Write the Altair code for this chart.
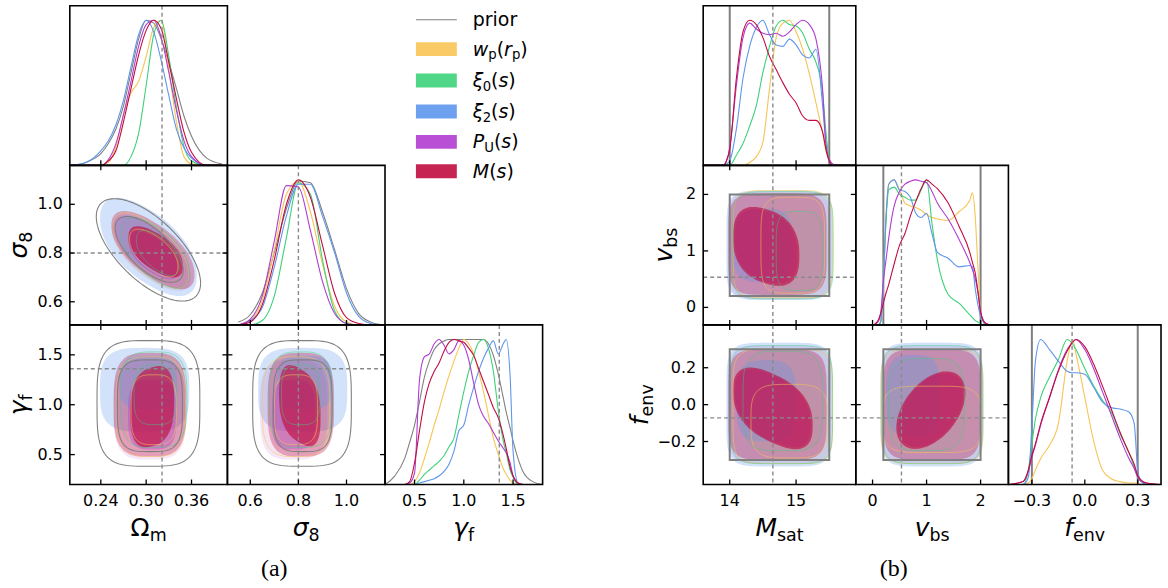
import numpy as np
import pandas as pd
import altair as alt

# ---------------------------------------------------------------- data
SET_ORDER = ["wp", "xi0", "xi2", "PU", "M"]
SET_COLOR = {"wp": "#f8c454", "xi0": "#3dd17a", "xi2": "#5e96ee",
             "PU": "#b03cd0", "M": "#c00d40"}
PRIOR_COLOR = "#808080"
TRUTH_COLOR = "#8a8a8a"

# parameter axes
DOMAIN = {"Om": [0.199, 0.4075], "s8": [0.505, 1.16], "gf": [0.2, 1.8],
          "Ms": [13.6, 15.9], "vb": [-0.31, 2.515], "fe": [-0.433, 0.432]}
XTICKS = {"Om": [0.24, 0.30, 0.36], "s8": [0.6, 0.8, 1.0], "gf": [0.5, 1.0, 1.5],
          "Ms": [14, 15], "vb": [0, 1, 2], "fe": [-0.3, 0.0, 0.3]}
XTICK_LABELS = {"Om": ["0.24", "0.30", "0.36"], "s8": ["0.6", "0.8", "1.0"],
                "gf": ["0.5", "1.0", "1.5"], "Ms": ["14", "15"], "vb": ["0", "1", "2"],
                "fe": ["\u22120.3", "0.0", "0.3"]}
YTICKS = {"s8": [0.6, 0.8, 1.0], "gf": [0.5, 1.0, 1.5], "vb": [0, 1, 2],
          "fe": [-0.2, 0.0, 0.2]}
YTICK_LABELS = {"s8": ["0.6", "0.8", "1.0"], "gf": ["0.5", "1.0", "1.5"],
                "vb": ["0", "1", "2"], "fe": ["\u22120.2", "0.0", "0.2"]}
TRUTH = {"Om": 0.321, "s8": 0.80, "gf": 1.36, "Ms": 14.65, "vb": 0.535, "fe": -0.072}
PRIOR_BOUNDS = {"Ms": [14.0, 15.5], "vb": [0.2, 2.0], "fe": [-0.3, 0.3]}

# axis titles: (text, role) pieces; role = italic / roman / subscript
TITLES = {"Om": [("\u03a9", "rm"), ("m", "sub")], "s8": [("\u03c3", "it"), ("8", "sub")],
          "gf": [("\u03b3", "it"), ("f", "sub")], "Ms": [("M", "it"), ("sat", "sub")],
          "vb": [("v", "it"), ("bs", "sub")], "fe": [("f", "it"), ("env", "sub")]}
LEGEND = [("prior", [("prior", "rm")]),
          ("wp", [("w", "it"), ("p", "sub"), ("(", "rm"), ("r", "it"), ("p", "sub"), (")", "rm")]),
          ("xi0", [("\u03be", "it"), ("0", "sub"), ("(", "rm"), ("s", "it"), (")", "rm")]),
          ("xi2", [("\u03be", "it"), ("2", "sub"), ("(", "rm"), ("s", "it"), (")", "rm")]),
          ("PU", [("P", "it"), ("U", "sub"), ("(", "rm"), ("s", "it"), (")", "rm")]),
          ("M", [("M", "it"), ("(", "rm"), ("s", "it"), (")", "rm")])]

# marginal posteriors (peak-normalised)
OM_GRID = [0.20, 0.22, 0.24, 0.25, 0.26, 0.27, 0.28, 0.29, 0.30, 0.31, 0.32, 0.33, 0.34, 0.35, 0.36, 0.38, 0.40]
OM_PDF = {
    "prior": [0.00, 0.02, 0.08, 0.15, 0.25, 0.41, 0.64, 0.87, 1.00, 0.98, 0.87, 0.71, 0.53, 0.34, 0.20, 0.05, 0.01],
    "wp":    [0.00, 0.00, 0.00, 0.02, 0.13, 0.35, 0.50, 0.58, 0.75, 0.95, 1.00, 0.66, 0.30, 0.06, 0.01, 0.00, 0.00],
    "xi0":   [0.00, 0.00, 0.00, 0.00, 0.00, 0.00, 0.06, 0.22, 0.55, 0.90, 1.00, 0.75, 0.40, 0.13, 0.03, 0.00, 0.00],
    "xi2":   [0.00, 0.02, 0.10, 0.17, 0.28, 0.45, 0.68, 0.90, 1.00, 0.92, 0.72, 0.48, 0.25, 0.12, 0.05, 0.00, 0.00],
    "PU":    [0.00, 0.00, 0.00, 0.04, 0.15, 0.35, 0.58, 0.82, 0.97, 1.00, 0.88, 0.64, 0.38, 0.17, 0.06, 0.00, 0.00],
    "M":     [0.00, 0.00, 0.00, 0.03, 0.10, 0.30, 0.53, 0.76, 0.93, 1.00, 0.94, 0.71, 0.46, 0.23, 0.09, 0.00, 0.00],
}
S8_GRID = [0.55, 0.60, 0.65, 0.70, 0.75, 0.80, 0.85, 0.90, 0.95, 1.00, 1.05, 1.10, 1.15]
S8_PDF = {
    "prior": [0.02, 0.07, 0.22, 0.50, 0.80, 0.99, 0.98, 0.78, 0.52, 0.25, 0.08, 0.02, 0.00],
    "wp":    [0.00, 0.03, 0.17, 0.52, 0.90, 0.99, 0.78, 0.42, 0.13, 0.02, 0.00, 0.00, 0.00],
    "xi0":   [0.00, 0.00, 0.03, 0.20, 0.60, 0.98, 0.90, 0.45, 0.10, 0.01, 0.00, 0.00, 0.00],
    "xi2":   [0.00, 0.03, 0.12, 0.40, 0.75, 0.97, 0.97, 0.75, 0.50, 0.22, 0.06, 0.01, 0.00],
    "PU":    [0.00, 0.04, 0.20, 0.58, 0.96, 0.95, 0.65, 0.30, 0.08, 0.01, 0.00, 0.00, 0.00],
    "M":     [0.00, 0.02, 0.14, 0.45, 0.83, 1.00, 0.88, 0.55, 0.22, 0.05, 0.01, 0.00, 0.00],
}
GF_GRID = [0.2, 0.3, 0.4, 0.45, 0.5, 0.55, 0.6, 0.65, 0.7, 0.75, 0.8, 0.85, 0.9, 0.95, 1.0,
           1.05, 1.1, 1.15, 1.2, 1.25, 1.3, 1.35, 1.4, 1.43, 1.47, 1.5, 1.55, 1.6, 1.7, 1.8]
GF_PDF = {
    "prior": [0.00, 0.06, 0.18, 0.29, 0.41, 0.57, 0.74, 0.85, 0.93, 0.97, 0.99, 1.00, 1.00, 1.00, 1.00,
              1.00, 1.00, 1.00, 1.00, 0.97, 0.89, 0.76, 0.60, 0.50, 0.39, 0.30, 0.18, 0.09, 0.02, 0.00],
    "wp":    [0.00, 0.00, 0.00, 0.00, 0.02, 0.08, 0.18, 0.29, 0.41, 0.52, 0.64, 0.75, 0.85, 0.94, 1.00,
              0.97, 0.90, 0.78, 0.64, 0.48, 0.32, 0.21, 0.11, 0.07, 0.03, 0.01, 0.00, 0.00, 0.00, 0.00],
    "xi0":   [0.00, 0.00, 0.00, 0.00, 0.00, 0.03, 0.07, 0.10, 0.13, 0.16, 0.20, 0.26, 0.32, 0.48, 0.64,
              0.78, 0.89, 0.98, 1.00, 0.94, 0.78, 0.51, 0.30, 0.22, 0.10, 0.05, 0.00, 0.00, 0.00, 0.00],
    "xi2":   [0.00, 0.00, 0.00, 0.00, 0.00, 0.01, 0.02, 0.03, 0.04, 0.06, 0.09, 0.14, 0.23, 0.37, 0.41,
              0.55, 0.67, 0.78, 0.87, 0.94, 0.99, 0.90, 0.97, 1.00, 0.75, 0.23, 0.01, 0.00, 0.00, 0.00],
    "PU":    [0.00, 0.00, 0.00, 0.01, 0.08, 0.72, 0.88, 0.90, 0.97, 1.00, 0.96, 0.90, 0.93, 0.99, 0.96,
              0.86, 0.70, 0.55, 0.47, 0.42, 0.36, 0.30, 0.25, 0.22, 0.15, 0.06, 0.01, 0.00, 0.00, 0.00],
    "M":     [0.00, 0.00, 0.00, 0.02, 0.15, 0.37, 0.57, 0.70, 0.78, 0.84, 0.92, 0.98, 1.00, 0.99, 0.98,
              0.94, 0.89, 0.80, 0.71, 0.62, 0.53, 0.46, 0.34, 0.25, 0.12, 0.06, 0.01, 0.00, 0.00, 0.00],
}
MS_GRID = [13.6, 13.9, 13.95, 14.0, 14.1, 14.2, 14.3, 14.4, 14.5, 14.6, 14.7, 14.8, 14.9, 15.0,
           15.1, 15.2, 15.3, 15.4, 15.45, 15.5, 15.55, 15.6, 15.9]
MS_PDF = {
    "wp":  [0, 0, 0, 0, 0, 0.00, 0.02, 0.06, 0.16, 0.53, 0.88, 0.98, 1.00, 0.92, 0.80, 0.63, 0.43, 0.22, 0.10, 0.03, 0.00, 0, 0],
    "xi0": [0, 0, 0, 0.00, 0.07, 0.15, 0.27, 0.41, 0.64, 0.82, 0.96, 1.00, 0.97, 0.96, 0.91, 0.80, 0.71, 0.50, 0.23, 0.04, 0.00, 0, 0],
    "xi2": [0, 0, 0.01, 0.03, 0.25, 0.60, 0.82, 0.95, 1.00, 0.90, 0.83, 0.82, 0.87, 0.83, 0.76, 0.74, 0.80, 0.41, 0.15, 0.03, 0.00, 0, 0],
    "PU":  [0, 0, 0.03, 0.12, 0.55, 0.88, 0.98, 0.94, 0.91, 0.90, 0.91, 0.89, 0.92, 0.97, 1.00, 0.97, 0.87, 0.52, 0.14, 0.04, 0.01, 0, 0],
    "M":   [0, 0, 0.03, 0.11, 0.60, 0.92, 1.00, 0.97, 0.88, 0.75, 0.66, 0.57, 0.49, 0.43, 0.34, 0.31, 0.31, 0.23, 0.11, 0.03, 0.00, 0, 0],
}
VB_GRID = [-0.3, 0.0, 0.1, 0.15, 0.2, 0.25, 0.3, 0.4, 0.5, 0.6, 0.7, 0.8, 0.9, 1.0, 1.1, 1.2,
           1.4, 1.6, 1.8, 1.85, 1.9, 1.95, 2.0, 2.05, 2.1, 2.2, 2.5]
VB_PDF = {
    "wp":  [0, 0, 0.00, 0.02, 0.30, 0.75, 0.97, 1.00, 0.93, 0.84, 0.82, 0.81, 0.79, 0.76, 0.74, 0.73,
            0.72, 0.78, 0.86, 0.91, 0.75, 0.40, 0.09, 0.02, 0.00, 0, 0],
    "xi0": [0, 0, 0.00, 0.02, 0.30, 0.72, 0.93, 0.95, 0.90, 0.88, 0.86, 0.86, 0.93, 1.00, 0.70, 0.45,
            0.21, 0.15, 0.07, 0.05, 0.03, 0.02, 0.01, 0.00, 0, 0, 0],
    "xi2": [0, 0, 0.00, 0.02, 0.30, 0.75, 0.97, 1.00, 0.93, 0.92, 0.88, 0.77, 0.74, 0.77, 0.63, 0.50,
            0.46, 0.40, 0.41, 0.40, 0.25, 0.14, 0.06, 0.02, 0.00, 0, 0],
    "PU":  [0, 0, 0.02, 0.08, 0.30, 0.45, 0.60, 0.82, 0.92, 0.97, 0.99, 1.00, 0.99, 0.98, 0.92, 0.84,
            0.73, 0.59, 0.43, 0.38, 0.32, 0.23, 0.09, 0.03, 0.01, 0, 0],
    "M":   [0, 0, 0.03, 0.08, 0.15, 0.22, 0.28, 0.42, 0.55, 0.63, 0.75, 0.85, 0.94, 1.00, 0.97, 0.94,
            0.84, 0.68, 0.50, 0.43, 0.36, 0.23, 0.09, 0.03, 0.01, 0, 0],
}
FE_GRID = [-0.43, -0.35, -0.32, -0.3, -0.28, -0.25, -0.2, -0.15, -0.1, -0.07, -0.05, 0.0, 0.05,
           0.1, 0.15, 0.2, 0.25, 0.28, 0.3, 0.32, 0.35, 0.43]
FE_PDF = {
    "wp":  [0, 0, 0.01, 0.04, 0.10, 0.18, 0.27, 0.42, 0.85, 1.00, 0.90, 0.60, 0.30, 0.10, 0.04, 0.02, 0.01, 0.01, 0.01, 0, 0, 0],
    "xi0": [0, 0.00, 0.10, 0.28, 0.45, 0.60, 0.74, 0.86, 1.00, 0.97, 0.93, 0.80, 0.68, 0.58, 0.50, 0.35, 0.22, 0.12, 0.05, 0.02, 0, 0],
    "xi2": [0, 0, 0.05, 0.40, 0.85, 1.00, 0.93, 0.85, 0.78, 0.77, 0.77, 0.76, 0.67, 0.57, 0.53, 0.52, 0.50, 0.42, 0.10, 0.02, 0, 0],
    "PU":  [0, 0.02, 0.09, 0.19, 0.27, 0.41, 0.60, 0.79, 0.93, 0.98, 1.00, 0.93, 0.80, 0.64, 0.48, 0.32, 0.18, 0.11, 0.05, 0.02, 0.01, 0],
    "M":   [0, 0.02, 0.10, 0.20, 0.28, 0.42, 0.60, 0.78, 0.92, 0.98, 1.00, 0.95, 0.83, 0.68, 0.52, 0.36, 0.22, 0.14, 0.06, 0.03, 0.01, 0],
}

# 2D credible regions: (set, level, centre x, centre y, half-width, half-height, correlation, squareness)
CONTOURS = {
    ("Om", "s8"): [
        ("prior", 95, 0.303, 0.813, 0.069, 0.210, -0.65, 1.0),
        ("prior", 68, 0.304, 0.815, 0.045, 0.135, -0.65, 1.0),
        ("xi2", 95, 0.303, 0.825, 0.064, 0.195, -0.60, 0.9),
        ("xi2", 68, 0.300, 0.830, 0.040, 0.120, -0.60, 0.9),
        ("wp", 95, 0.306, 0.810, 0.050, 0.150, -0.65, 0.9),
        ("wp", 68, 0.310, 0.800, 0.032, 0.095, -0.60, 0.9),
        ("xi0", 95, 0.312, 0.800, 0.045, 0.140, -0.60, 0.9),
        ("xi0", 68, 0.315, 0.800, 0.028, 0.090, -0.60, 0.9),
        ("PU", 95, 0.307, 0.800, 0.052, 0.150, -0.65, 0.9),
        ("PU", 68, 0.310, 0.790, 0.033, 0.095, -0.60, 0.9),
        ("M", 95, 0.309, 0.812, 0.055, 0.155, -0.65, 0.9),
        ("M", 68, 0.3126, 0.805, 0.036, 0.100, -0.60, 0.85),
    ],
    ("Om", "gf"): [
        ("prior", 95, 0.303, 1.013, 0.068, 0.63, 0.0, 0.55),
        ("prior", 68, 0.305, 0.990, 0.043, 0.46, 0.0, 0.55),
        ("xi2", 95, 0.298, 1.150, 0.059, 0.42, 0.0, 0.6),
        ("xi2", 68, 0.303, 1.220, 0.038, 0.27, 0.0, 0.6),
        ("wp", 95, 0.306, 0.980, 0.046, 0.50, 0.0, 0.6),
        ("wp", 68, 0.310, 0.950, 0.030, 0.35, 0.0, 0.6),
        ("xi0", 95, 0.310, 1.050, 0.044, 0.48, 0.0, 0.6),
        ("xi0", 68, 0.312, 1.100, 0.028, 0.30, 0.0, 0.6),
        ("PU", 95, 0.305, 0.950, 0.048, 0.50, 0.0, 0.6),
        ("PU", 68, 0.308, 0.900, 0.032, 0.35, 0.0, 0.6),
        ("M", 95, 0.305, 1.000, 0.048, 0.52, 0.0, 0.6),
        ("M", 68, 0.308, 0.980, 0.029, 0.40, 0.15, 0.75),
    ],
    ("s8", "gf"): [
        ("prior", 95, 0.815, 1.013, 0.205, 0.63, 0.0, 0.55),
        ("prior", 68, 0.818, 0.990, 0.122, 0.46, 0.0, 0.55),
        ("xi2", 95, 0.818, 1.150, 0.185, 0.42, 0.0, 0.6),
        ("xi2", 68, 0.825, 1.220, 0.115, 0.27, 0.0, 0.6),
        ("wp", 95, 0.790, 0.980, 0.140, 0.50, 0.0, 0.6),
        ("wp", 68, 0.790, 0.950, 0.090, 0.35, 0.0, 0.6),
        ("xi0", 95, 0.810, 1.050, 0.130, 0.48, 0.0, 0.6),
        ("xi0", 68, 0.810, 1.100, 0.080, 0.30, 0.0, 0.6),
        ("PU", 95, 0.780, 0.950, 0.140, 0.50, 0.0, 0.6),
        ("PU", 68, 0.780, 0.900, 0.090, 0.35, 0.0, 0.6),
        ("M", 95, 0.810, 1.000, 0.138, 0.52, 0.0, 0.6),
        ("M", 68, 0.806, 0.990, 0.086, 0.39, -0.30, 0.75),
    ],
    ("Ms", "vb"): [
        ("xi2", 95, 14.75, 1.10, 0.80, 0.97, 0.0, 0.35),
        ("xi2", 68, 14.50, 1.10, 0.45, 0.65, 0.0, 0.6),
        ("wp", 95, 14.80, 1.12, 0.75, 0.95, 0.0, 0.35),
        ("wp", 68, 14.95, 1.10, 0.48, 0.85, 0.0, 0.45),
        ("xi0", 95, 14.80, 1.10, 0.76, 0.95, 0.0, 0.35),
        ("xi0", 68, 15.05, 1.00, 0.35, 0.70, 0.0, 0.5),
        ("PU", 95, 14.75, 1.10, 0.78, 0.95, 0.0, 0.35),
        ("PU", 68, 14.55, 1.08, 0.47, 0.64, -0.25, 0.8),
        ("M", 95, 14.72, 1.12, 0.74, 0.90, 0.0, 0.4),
        ("M", 68, 14.55, 1.08, 0.50, 0.68, -0.25, 0.8),
    ],
    ("Ms", "fe"): [
        ("xi2", 95, 14.75, 0.00, 0.80, 0.335, 0.0, 0.35),
        ("xi2", 68, 14.55, 0.02, 0.45, 0.22, 0.0, 0.6),
        ("wp", 95, 14.80, -0.01, 0.75, 0.31, 0.0, 0.35),
        ("wp", 68, 14.90, -0.09, 0.58, 0.20, 0.0, 0.55),
        ("xi0", 95, 14.78, 0.00, 0.77, 0.32, 0.0, 0.35),
        ("xi0", 68, 14.80, 0.02, 0.60, 0.27, 0.0, 0.5),
        ("PU", 95, 14.75, 0.00, 0.78, 0.32, 0.0, 0.35),
        ("PU", 68, 14.65, -0.02, 0.57, 0.20, -0.45, 0.8),
        ("M", 95, 14.72, 0.00, 0.74, 0.30, 0.0, 0.4),
        ("M", 68, 14.65, -0.02, 0.60, 0.21, -0.45, 0.8),
    ],
    ("vb", "fe"): [
        ("xi2", 95, 1.10, 0.00, 0.95, 0.335, 0.0, 0.35),
        ("xi2", 68, 0.75, 0.05, 0.50, 0.22, 0.0, 0.6),
        ("wp", 95, 1.10, -0.01, 0.95, 0.31, 0.0, 0.35),
        ("wp", 68, 1.10, -0.08, 0.90, 0.18, 0.0, 0.45),
        ("xi0", 95, 1.10, 0.00, 0.93, 0.32, 0.0, 0.35),
        ("xi0", 68, 1.00, 0.00, 0.70, 0.25, 0.0, 0.5),
        ("PU", 95, 1.10, 0.00, 0.95, 0.32, 0.0, 0.35),
        ("PU", 68, 1.08, -0.03, 0.60, 0.20, 0.45, 1.0),
        ("M", 95, 1.10, 0.00, 0.90, 0.30, 0.0, 0.4),
        ("M", 68, 1.08, -0.03, 0.64, 0.21, 0.45, 1.0),
    ],
}

# ---------------------------------------------------------------- styling
FONT = "DejaVu Sans"
W_L, W_R, H, GAP, CAP_H = 158, 153, 160, 161, 100
TICK_FS, TITLE_FS, LEGEND_FS = 16, 25, 19
FILL_OPACITY = {("xi2", 95): 0.28, ("xi2", 68): 0.30, ("wp", 95): 0.05, ("wp", 68): 0.05,
                ("xi0", 95): 0.05, ("xi0", 68): 0.05, ("PU", 95): 0.12, ("PU", 68): 0.35,
                ("M", 95): 0.32, ("M", 68): 0.65}
LINE_OPACITY = {"wp": 0.55, "xi0": 0.45}
CHAR_W = {"\u03a9": 0.764, "\u03c3": 0.634, "\u03b3": 0.592, "M": 0.863, "v": 0.592, "f": 0.352,
          "m": 0.974, "s": 0.521, "a": 0.613, "t": 0.392, "b": 0.635, "e": 0.615, "n": 0.634,
          "w": 0.818, "p": 0.635, "r": 0.411, "(": 0.390, ")": 0.390, "\u03be": 0.52,
          "P": 0.603, "U": 0.732, "0": 0.636, "2": 0.636, "8": 0.636, "i": 0.278, "o": 0.612}

ONE = pd.DataFrame({"k": [0]})
YPDF = alt.Scale(domain=[0, 1.1], nice=False, zero=True)


def sc(key):
    return alt.Scale(domain=DOMAIN[key], nice=False, zero=False)


def rich_text(pieces, x, y, size, angle=0, center=True):
    """Text with subscripts, laid out piece by piece along its baseline."""
    sub = 0.7 * size
    widths = [sum(CHAR_W.get(ch, 0.6) for ch in t) * (sub if r == "sub" else size)
              for t, r in pieces]
    off = -sum(widths) / 2 if center else 0.0
    out = []
    for (t, r), w in zip(pieces, widths):
        out.append(alt.Chart(ONE).mark_text(
            text=t, font=FONT, fontSize=sub if r == "sub" else size,
            fontStyle="italic" if r == "it" else "normal", align="left",
            baseline="alphabetic", dx=off, dy=0.2 * size if r == "sub" else 0,
            angle=angle, color="black").encode(x=alt.value(x), y=alt.value(y)))
        off += w
    return out


def frame(w):
    return alt.Chart(ONE).mark_rect(fillOpacity=0, stroke="black", strokeWidth=1.6).encode(
        x=alt.value(0), x2=alt.value(w), y=alt.value(0), y2=alt.value(H))


def x_ticks(key, top=False):
    d = pd.DataFrame({"v": XTICKS[key]})
    m = alt.Chart(d).mark_rule(color="black", strokeWidth=1.3)
    out = [m.encode(x=alt.X("v:Q", scale=sc(key), axis=None), y=alt.value(H), y2=alt.value(H - 5))]
    if top:
        out.append(m.encode(x=alt.X("v:Q", scale=sc(key), axis=None), y=alt.value(0), y2=alt.value(5)))
    return out


def y_ticks(key, w):
    d = pd.DataFrame({"v": YTICKS[key]})
    m = alt.Chart(d).mark_rule(color="black", strokeWidth=1.3)
    return [m.encode(y=alt.Y("v:Q", scale=sc(key), axis=None), x=alt.value(0), x2=alt.value(5)),
            m.encode(y=alt.Y("v:Q", scale=sc(key), axis=None), x=alt.value(w), x2=alt.value(w - 5))]


def x_labels(key, w):
    d = pd.DataFrame({"v": XTICKS[key], "lab": XTICK_LABELS[key]})
    out = [alt.Chart(d).mark_text(font=FONT, fontSize=TICK_FS, baseline="alphabetic").encode(
        x=alt.X("v:Q", scale=sc(key), axis=None), y=alt.value(H + 22), text="lab:N")]
    out += rich_text(TITLES[key], w / 2, H + 52, TITLE_FS)
    return out


def y_labels(key, title_x):
    d = pd.DataFrame({"v": YTICKS[key], "lab": YTICK_LABELS[key]})
    out = [alt.Chart(d).mark_text(font=FONT, fontSize=TICK_FS, align="right", baseline="middle").encode(
        y=alt.Y("v:Q", scale=sc(key), axis=None), x=alt.value(-7), text="lab:N")]
    out += rich_text(TITLES[key], title_x, H / 2, TITLE_FS, angle=270)
    return out


def vtruth(key):
    return alt.Chart(pd.DataFrame({"v": [TRUTH[key]]})).mark_rule(
        color=TRUTH_COLOR, strokeWidth=1.4, strokeDash=[4, 3]).encode(
        x=alt.X("v:Q", scale=sc(key), axis=None), y=alt.value(0), y2=alt.value(H))


def htruth(key, w):
    return alt.Chart(pd.DataFrame({"v": [TRUTH[key]]})).mark_rule(
        color=TRUTH_COLOR, strokeWidth=1.4, strokeDash=[4, 3]).encode(
        y=alt.Y("v:Q", scale=sc(key), axis=None), x=alt.value(0), x2=alt.value(w))


def shape_df(cx, cy, sx, sy, rho, p, n=120):
    t = np.linspace(0.0, 2 * np.pi, n + 1)
    c, s = np.cos(t), np.sin(t)
    c = np.sign(c) * np.abs(c) ** p
    s = np.sign(s) * np.abs(s) ** p
    return pd.DataFrame({"i": np.arange(n + 1), "x": cx + sx * c,
                         "y": cy + sy * (rho * c + np.sqrt(1 - rho ** 2) * s)})


def panel_1d(key, grid, pdfs, w, labels=False):
    layers = []
    if key in PRIOR_BOUNDS:
        d = pd.DataFrame({"v": PRIOR_BOUNDS[key]})
        layers.append(alt.Chart(d).mark_rule(color=PRIOR_COLOR, strokeWidth=2).encode(
            x=alt.X("v:Q", scale=sc(key), axis=None), y=alt.value(0), y2=alt.value(H)))
    for name in ["prior"] + SET_ORDER:
        if name not in pdfs:
            continue
        d = pd.DataFrame({"x": grid, "y": pdfs[name]})
        col = PRIOR_COLOR if name == "prior" else SET_COLOR[name]
        layers.append(alt.Chart(d).mark_line(color=col, strokeWidth=1.1, interpolate="monotone",
                                             clip=True).encode(
            x=alt.X("x:Q", scale=sc(key), axis=None), y=alt.Y("y:Q", scale=YPDF, axis=None)))
    layers.append(vtruth(key))
    layers += x_ticks(key)
    if labels:
        layers += x_labels(key, w)
    layers.append(frame(w))
    return alt.layer(*layers).properties(width=w, height=H)


def panel_2d(xk, yk, w, xlab=False, ylab=False, title_x=-42):
    xs, ys = sc(xk), sc(yk)
    entries = {(c[0], c[1]): c[2:] for c in CONTOURS[(xk, yk)]}
    layers = []
    order = [(s, 95) for s in ["xi2", "wp", "xi0", "PU", "M"]] + \
            [(s, 68) for s in ["xi2", "wp", "xi0", "PU", "M"]]
    for k in order:
        if k not in entries:
            continue
        layers.append(alt.Chart(shape_df(*entries[k])).mark_line(
            fill=SET_COLOR[k[0]], fillOpacity=FILL_OPACITY[k], strokeOpacity=0, clip=True).encode(
            x=alt.X("x:Q", scale=xs, axis=None), y=alt.Y("y:Q", scale=ys, axis=None),
            order=alt.Order("i:Q")))
    # faint outlines of the other probes drawn over the filled regions
    for k in [(s, lev) for lev in (95, 68) for s in ["wp", "xi0"]]:
        if k not in entries:
            continue
        layers.append(alt.Chart(shape_df(*entries[k])).mark_line(
            color=SET_COLOR[k[0]], strokeOpacity=LINE_OPACITY[k[0]], strokeWidth=1, clip=True).encode(
            x=alt.X("x:Q", scale=xs, axis=None), y=alt.Y("y:Q", scale=ys, axis=None),
            order=alt.Order("i:Q")))
    for lev in (95, 68):
        k = ("prior", lev)
        if k in entries:
            layers.append(alt.Chart(shape_df(*entries[k])).mark_line(
                color=PRIOR_COLOR, strokeWidth=1.1, clip=True).encode(
                x=alt.X("x:Q", scale=xs, axis=None), y=alt.Y("y:Q", scale=ys, axis=None),
                order=alt.Order("i:Q")))
    if xk in PRIOR_BOUNDS:
        d = pd.DataFrame({"x0": [PRIOR_BOUNDS[xk][0]], "x1": [PRIOR_BOUNDS[xk][1]],
                          "y0": [PRIOR_BOUNDS[yk][0]], "y1": [PRIOR_BOUNDS[yk][1]]})
        layers.append(alt.Chart(d).mark_rect(fillOpacity=0, stroke=PRIOR_COLOR, strokeWidth=2).encode(
            x=alt.X("x0:Q", scale=xs, axis=None), x2="x1:Q",
            y=alt.Y("y0:Q", scale=ys, axis=None), y2="y1:Q"))
    layers.append(vtruth(xk))
    layers.append(htruth(yk, w))
    layers += x_ticks(xk, top=True)
    layers += y_ticks(yk, w)
    if xlab:
        layers += x_labels(xk, w)
    if ylab:
        layers += y_labels(yk, title_x)
    layers.append(frame(w))
    return alt.layer(*layers).properties(width=w, height=H)


def blank(w, h, extra=None):
    base = alt.Chart(ONE).mark_point(opacity=0).encode(x=alt.value(0), y=alt.value(0))
    layers = [base] + (extra or [])
    return alt.layer(*layers).properties(width=w, height=h)


def legend_cell(w):
    layers = []
    rows_y = [14, 43.5, 75, 106, 136.5, 166]
    for (name, pieces), yy in zip(LEGEND, rows_y):
        if name == "prior":
            layers.append(alt.Chart(ONE).mark_rule(color=PRIOR_COLOR, strokeWidth=1.1).encode(
                x=alt.value(31), x2=alt.value(72), y=alt.value(yy)))
        else:
            layers.append(alt.Chart(ONE).mark_rect(color=SET_COLOR[name], opacity=0.9).encode(
                x=alt.value(31), x2=alt.value(72), y=alt.value(yy - 7), y2=alt.value(yy + 7)))
        layers += rich_text(pieces, 88, yy + 6.5, LEGEND_FS, center=False)
    return blank(w, H, layers)


# anchor so the figure's left edge sits a fixed distance from the first panel
anchor = alt.Chart(ONE).mark_rule(strokeOpacity=0).encode(
    x=alt.value(-69), x2=alt.value(-68), y=alt.value(-4), y2=alt.value(-3))

cells = [
    # row 0
    alt.layer(panel_1d("Om", OM_GRID, OM_PDF, W_L), anchor),
    blank(W_L, H), legend_cell(W_L), blank(GAP, H),
    panel_1d("Ms", MS_GRID, MS_PDF, W_R), blank(W_R, H), blank(W_R, H),
    # row 1
    panel_2d("Om", "s8", W_L, ylab=True, title_x=-43),
    panel_1d("s8", S8_GRID, S8_PDF, W_L), blank(W_L, H), blank(GAP, H),
    panel_2d("Ms", "vb", W_R, ylab=True, title_x=-31),
    panel_1d("vb", VB_GRID, VB_PDF, W_R), blank(W_R, H),
    # row 2
    panel_2d("Om", "gf", W_L, xlab=True, ylab=True, title_x=-43),
    panel_2d("s8", "gf", W_L, xlab=True),
    panel_1d("gf", GF_GRID, GF_PDF, W_L, labels=True), blank(GAP, H),
    panel_2d("Ms", "fe", W_R, xlab=True, ylab=True, title_x=-55),
    panel_2d("vb", "fe", W_R, xlab=True),
    panel_1d("fe", FE_GRID, FE_PDF, W_R, labels=True),
    # captions
    blank(W_L, CAP_H),
    blank(W_L, CAP_H, [alt.Chart(ONE).mark_text(text="(a)", font="Liberation Serif", fontSize=24,
                                                 baseline="alphabetic").encode(
        x=alt.value(47), y=alt.value(92))]),
    blank(W_L, CAP_H), blank(GAP, CAP_H), blank(W_R, CAP_H),
    blank(W_R, CAP_H, [alt.Chart(ONE).mark_text(text="(b)", font="Liberation Serif", fontSize=24,
                                                 baseline="alphabetic").encode(
        x=alt.value(38), y=alt.value(92))]),
    blank(W_R, CAP_H),
]

chart = alt.concat(*cells, columns=7, spacing=0, bounds="flush", align="each").properties(
    padding={"left": 0, "top": 0, "right": 5, "bottom": 0}, background="white"
).configure_view(stroke="transparent")

chart.save("out.html", embed_options={"renderer": "svg", "actions": False})
